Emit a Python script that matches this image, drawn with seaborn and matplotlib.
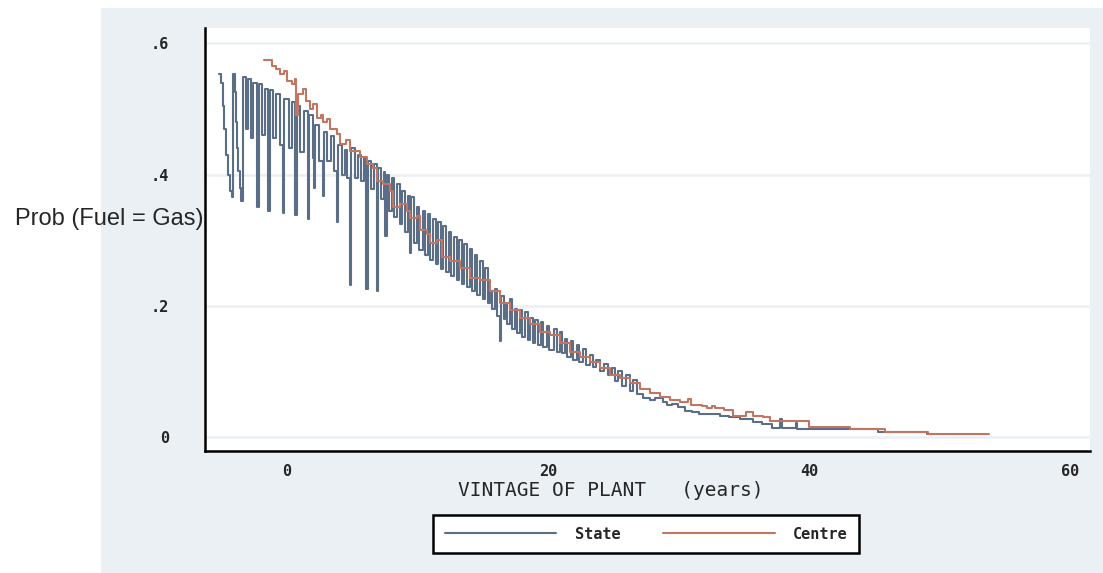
import pandas as pd
import matplotlib
matplotlib.use("Agg")
import matplotlib.pyplot as plt
from matplotlib.patches import Rectangle
import seaborn as sns

# State: stairstep series (vintage in years, probability)
state_x = [-5.16, -5.00, -4.92, -4.80, -4.65, -4.48, -4.36, -4.22,
           -4.09, -3.98, -3.90, -3.80, -3.70, -3.60, -3.48,
           -3.33, -3.15, -2.95, -2.75, -2.55,
           -2.26, -2.15, -1.90, -1.70,
           -1.42, -1.32, -1.05, -0.80, -0.55,
           -0.27, -0.18, 0.15, 0.40,
           0.65, 0.75, 1.05, 1.30,
           1.64, 1.72, 2.00, 2.10, 2.20, 2.50,
           2.79, 2.88, 3.10, 3.35, 3.60,
           3.86, 3.95, 4.20, 4.45, 4.65,
           4.86, 4.95, 5.20, 5.45, 5.70, 5.90,
           6.10, 6.20, 6.45, 6.70,
           6.92, 7.00, 7.25, 7.45,
           7.53, 7.65, 7.85, 8.05, 8.25, 8.45, 8.65, 8.85, 9.05, 9.25,
           9.45, 9.55, 9.75, 9.95, 10.15, 10.40, 10.60, 10.80, 11.00, 11.20,
           11.40, 11.60, 11.80, 12.00, 12.20, 12.40, 12.60, 12.80, 13.00, 13.20,
           13.40, 13.60, 13.80, 14.00, 14.20, 14.40, 14.60, 14.80, 15.00, 15.20,
           15.40, 15.57, 15.75, 15.95, 16.10, 16.33, 16.40, 16.60, 16.75,
           16.90, 17.10, 17.25, 17.50, 17.65, 17.86, 18.00, 18.25, 18.45, 18.65,
           18.85, 19.05, 19.25, 19.45, 19.65, 19.90, 20.10, 20.45, 20.70, 20.93,
           21.10, 21.31, 21.50, 21.75, 21.95, 22.20, 22.40, 22.70, 22.90, 23.22,
           23.45, 23.70, 23.99, 24.30, 24.60, 24.90, 25.13, 25.40, 25.70, 26.00,
           26.28, 26.55, 26.80, 27.30, 27.81, 28.20, 28.80, 29.10, 29.50, 30.00,
           30.50, 31.00, 31.60, 32.40, 33.20, 33.90, 34.70, 35.70, 36.40, 37.20,
           37.80, 37.90, 39.00, 39.10, 45.25, 49.00, 49.40]
state_y = [0.553, 0.540, 0.505, 0.470, 0.430, 0.400, 0.375, 0.365,
           0.553, 0.525, 0.480, 0.440, 0.405, 0.380, 0.360,
           0.548, 0.470, 0.545, 0.455, 0.540,
           0.350, 0.538, 0.460, 0.530,
           0.345, 0.528, 0.455, 0.522, 0.445,
           0.342, 0.515, 0.440, 0.510,
           0.338, 0.505, 0.435, 0.497,
           0.332, 0.490, 0.425, 0.380, 0.475, 0.420,
           0.368, 0.465, 0.420, 0.458, 0.405,
           0.327, 0.445, 0.400, 0.438, 0.395,
           0.231, 0.440, 0.395, 0.430, 0.390, 0.426,
           0.226, 0.420, 0.378, 0.416,
           0.223, 0.410, 0.362, 0.404,
           0.307, 0.400, 0.345, 0.395, 0.335, 0.385, 0.325, 0.375, 0.312, 0.368,
           0.280, 0.365, 0.295, 0.350, 0.285, 0.345, 0.278, 0.340, 0.270, 0.332,
           0.264, 0.328, 0.256, 0.322, 0.252, 0.312, 0.246, 0.305, 0.240, 0.300,
           0.234, 0.294, 0.228, 0.286, 0.222, 0.278, 0.216, 0.268, 0.210, 0.258,
           0.205, 0.223, 0.195, 0.225, 0.185, 0.147, 0.215, 0.180, 0.205,
           0.172, 0.211, 0.165, 0.195, 0.158, 0.193, 0.152, 0.190, 0.148, 0.181,
           0.143, 0.178, 0.140, 0.175, 0.137, 0.170, 0.133, 0.165, 0.130, 0.160,
           0.128, 0.150, 0.122, 0.146, 0.118, 0.140, 0.114, 0.135, 0.110, 0.125,
           0.107, 0.118, 0.100, 0.112, 0.095, 0.105, 0.085, 0.100, 0.078, 0.095,
           0.070, 0.087, 0.066, 0.059, 0.056, 0.060, 0.053, 0.049, 0.050, 0.046,
           0.040, 0.038, 0.036, 0.035, 0.032, 0.030, 0.028, 0.023, 0.020, 0.014,
           0.027, 0.014, 0.022, 0.013, 0.008, 0.005, 0.005]

# Centre: smoother stairstep, lies a little above State
centre_x = [-1.72, -1.11, -0.80, -0.50, -0.20, 0.05, 0.40, 0.65, 0.73, 0.85,
            1.26, 1.50, 1.80, 2.00, 2.33, 2.60, 2.79, 3.10, 3.33, 3.86,
            4.09, 4.50, 4.86, 5.62, 6.16, 6.62, 6.92, 7.38, 7.92, 8.15,
            8.68, 9.20, 9.45, 9.98, 10.21, 10.75, 10.98, 11.50, 11.90, 12.51,
            13.27, 14.04, 14.80, 15.57, 16.33, 17.10, 17.86, 18.63, 19.39, 20.16,
            20.93, 21.69, 22.46, 23.22, 23.99, 24.75, 25.52, 26.28, 27.05, 27.81,
            28.58, 29.34, 30.11, 30.70, 30.95, 31.80, 32.20, 32.60, 32.80, 33.50,
            34.20, 35.20, 35.70, 36.50, 37.00, 40.00, 43.10, 45.80, 49.10, 53.82]
centre_y = [0.575, 0.565, 0.560, 0.553, 0.558, 0.543, 0.538, 0.545, 0.490, 0.523,
            0.530, 0.512, 0.500, 0.508, 0.486, 0.490, 0.480, 0.485, 0.470, 0.462,
            0.447, 0.452, 0.436, 0.426, 0.416, 0.410, 0.390, 0.386, 0.375, 0.350,
            0.355, 0.345, 0.334, 0.337, 0.315, 0.310, 0.295, 0.300, 0.274, 0.269,
            0.258, 0.243, 0.239, 0.223, 0.204, 0.193, 0.182, 0.173, 0.160, 0.155,
            0.143, 0.129, 0.122, 0.114, 0.105, 0.094, 0.090, 0.082, 0.074, 0.067,
            0.061, 0.056, 0.053, 0.058, 0.049, 0.048, 0.044, 0.048, 0.044, 0.041,
            0.032, 0.038, 0.032, 0.030, 0.024, 0.015, 0.012, 0.0076, 0.0046, 0.0046]

y_ticks = [0, 0.2, 0.4, 0.6]
y_tick_labels = ["0", ".2", ".4", ".6"]
x_ticks = [0, 20, 40, 60]

df = pd.concat([
    pd.DataFrame({"vintage": state_x, "prob": state_y, "owner": "State"}),
    pd.DataFrame({"vintage": centre_x, "prob": centre_y, "owner": "Centre"}),
], ignore_index=True)

bg = "#eaf0f3"
palette = {"State": "#5b6e87", "Centre": "#c27560"}
mono = "DejaVu Sans Mono"

sns.set_style("white")

fig = plt.figure(figsize=(11.03, 5.73), dpi=100)
# stata-like light panel behind the plot region
fig.patches.append(Rectangle((101 / 1103, 0), 1, 1 - 8 / 573, transform=fig.transFigure,
                             facecolor=bg, edgecolor="none", zorder=-10))
ax = fig.add_axes([0.186, 0.213, 0.802, 0.738])
ax.set_facecolor("white")

sns.lineplot(data=df, x="vintage", y="prob", hue="owner", hue_order=["State", "Centre"],
             palette=palette, estimator=None, sort=False, drawstyle="steps-post",
             linewidth=1.5, legend=False, ax=ax)

ax.set_xlim(-6.25, 61.5)
ax.set_ylim(-0.021, 0.623)
ax.set_yticks(y_ticks)
ax.set_yticklabels(y_tick_labels)
ax.set_xticks(x_ticks)
for y in y_ticks:
    ax.axhline(y, color=bg, linewidth=1.8, zorder=0)

ax.spines["top"].set_visible(False)
ax.spines["right"].set_visible(False)
for s in ["left", "bottom"]:
    ax.spines[s].set_linewidth(1.8)
    ax.spines[s].set_color("black")
ax.tick_params(axis="y", direction="out", length=8, width=1.6, pad=18, labelsize=11)
ax.tick_params(axis="x", direction="out", length=6.5, width=1.6, pad=3, labelsize=11)
for lab in ax.get_xticklabels() + ax.get_yticklabels():
    lab.set_family(mono)
    lab.set_weight("bold")

ax.set_xlabel("VINTAGE OF PLANT   (years)", family=mono, fontsize=14, labelpad=2)
ax.xaxis.set_label_coords(0.458, -0.072)
ax.set_ylabel("Prob (Fuel = Gas)", family="Liberation Sans", fontsize=17,
              rotation=0, ha="right", va="center")
ax.yaxis.set_label_coords(-0.002, 0.548)

handles = ax.get_lines()[:2]
leg = fig.legend(handles, ["State", "Centre"], loc="center", bbox_to_anchor=(0.586, 0.068),
                 ncol=2, handlelength=7.3, handletextpad=1.2, columnspacing=2.8,
                 prop={"family": mono, "size": 11, "weight": "bold"}, frameon=True,
                 fancybox=False, borderpad=0.75)
leg.get_frame().set_edgecolor("black")
leg.get_frame().set_linewidth(1.8)
leg.get_frame().set_facecolor("white")
leg.get_frame().set_alpha(1)

fig.savefig("out.png", dpi=100)
